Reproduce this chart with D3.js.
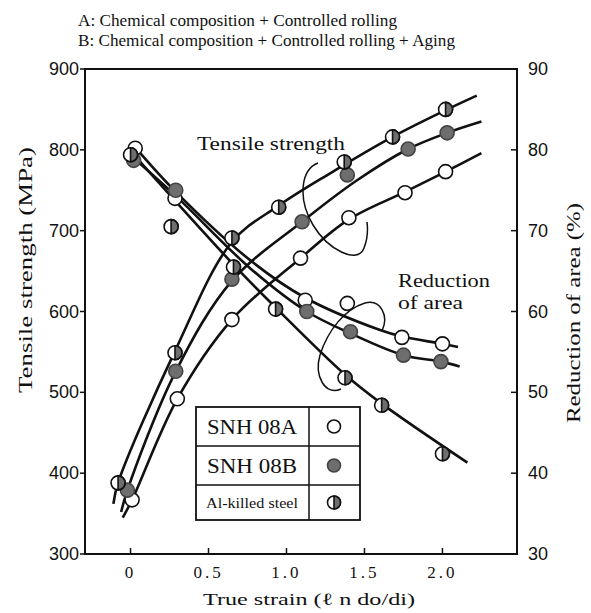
<!DOCTYPE html>
<html>
<head>
<meta charset="utf-8">
<script src="https://cdn.jsdelivr.net/npm/d3@7"></script>
<style>
  body { margin: 0; background: #fff; }
  text { font-family: "Liberation Serif", "DejaVu Serif", serif; fill: #111; }
  .num { font-family: "Liberation Sans", Arial, sans-serif; }
</style>
</head>
<body>
<div id="chart"></div>
<script>
// axis ticks
var strainTicks = [0, 0.5, 1.0, 1.5, 2.0];
var strainLabels = ["0", "0.5", "1.0", "1.5", "2.0"];
var tsTicks = [300, 400, 500, 600, 700, 800, 900];
var raTicks = [30, 40, 50, 60, 70, 80, 90];

// measured points [true strain, value]
var tsA  = [[0.01, 367], [0.30, 492], [0.65, 590], [1.09, 666], [1.40, 716], [1.76, 747], [2.02, 773]];
var tsB  = [[-0.02, 379], [0.29, 526], [0.65, 640], [1.10, 711], [1.39, 769], [1.78, 801], [2.03, 821]];
var tsAl = [[-0.08, 388], [0.285, 549], [0.65, 691], [0.95, 729], [1.37, 785], [1.68, 816], [2.02, 850]];
var raA  = [[0.03, 80.2], [0.285, 74.0], [1.12, 61.4], [1.39, 61.0], [1.74, 56.8], [2.0, 56.0]];
var raB  = [[0.02, 78.7], [0.29, 75.0], [1.13, 60.0], [1.41, 57.5], [1.75, 54.6], [1.99, 53.8]];
var raAl = [[0.0, 79.4], [0.26, 70.5], [0.66, 65.5], [0.93, 60.3], [1.375, 51.8], [1.61, 48.4], [2.0, 42.4]];

// fitted curves as drawn in the figure
var tsAFit  = [[-0.05, 345], [0.01, 367], [0.30, 492], [0.65, 590], [1.09, 666], [1.40, 714], [1.76, 748], [2.02, 773], [2.25, 796]];
var tsBFit  = [[-0.06, 352], [-0.02, 379], [0.29, 526], [0.65, 638], [1.10, 711], [1.45, 762], [1.78, 801], [2.03, 821], [2.25, 835]];
var tsAlFit = [[-0.11, 362], [-0.08, 388], [0.285, 551], [0.65, 686], [0.95, 731], [1.28, 771], [1.68, 816], [2.02, 849], [2.22, 867]];
var raAFit  = [[0.03, 80.3], [0.29, 74.8], [0.77, 66.3], [1.12, 61.7], [1.60, 57.7], [1.74, 56.9], [2.0, 56.0], [2.10, 55.6]];
var raBFit  = [[0.02, 79.0], [0.29, 74.3], [0.77, 65.3], [1.13, 60.0], [1.41, 57.3], [1.75, 54.6], [1.99, 53.8], [2.11, 53.2]];
var raAlFit = [[0.02, 79.4], [0.66, 65.8], [0.93, 60.5], [1.375, 52.2], [1.61, 48.6], [2.16, 41.3]];

var legendNames = ["SNH 08A", "SNH 08B", "Al-killed steel"];
var legendKinds = ["open", "filled", "half"];

var width = 591, height = 613;
var margin = { left: 85, top: 69, right: 74, bottom: 59 };
var innerW = width - margin.left - margin.right;
var innerH = height - margin.top - margin.bottom;
var gray = "#6e6e6e";

var svg = d3.select("#chart").append("svg")
  .attr("width", width)
  .attr("height", height);

var x = d3.scaleLinear().domain([-0.292, 2.478]).range([margin.left, margin.left + innerW]);
var yTS = d3.scaleLinear().domain([300, 900]).range([margin.top + innerH, margin.top]);
var yRA = d3.scaleLinear().domain([30, 90]).range([margin.top + innerH, margin.top]);

// frame
svg.append("rect")
  .attr("x", margin.left).attr("y", margin.top)
  .attr("width", innerW).attr("height", innerH)
  .attr("fill", "none").attr("stroke", "#111").attr("stroke-width", 2);

// left axis (ticks outward)
svg.selectAll(".tl").data(tsTicks).enter().append("line")
  .attr("x1", margin.left - 5).attr("x2", margin.left)
  .attr("y1", function (d) { return yTS(d); }).attr("y2", function (d) { return yTS(d); })
  .attr("stroke", "#111").attr("stroke-width", 1.5);
svg.selectAll(".tll").data(tsTicks).enter().append("text")
  .attr("class", "num")
  .attr("x", margin.left - 6).attr("y", function (d) { return yTS(d) + 6; })
  .attr("text-anchor", "end").attr("font-size", 18)
  .text(function (d) { return d; });

// right axis (ticks inward)
svg.selectAll(".tr").data(raTicks).enter().append("line")
  .attr("x1", margin.left + innerW - 6).attr("x2", margin.left + innerW)
  .attr("y1", function (d) { return yRA(d); }).attr("y2", function (d) { return yRA(d); })
  .attr("stroke", "#111").attr("stroke-width", 1.5);
svg.selectAll(".trl").data(raTicks).enter().append("text")
  .attr("class", "num")
  .attr("x", margin.left + innerW + 11).attr("y", function (d) { return yRA(d) + 6; })
  .attr("font-size", 18)
  .text(function (d) { return d; });

// bottom axis (ticks inward)
svg.selectAll(".tb").data(strainTicks).enter().append("line")
  .attr("x1", function (d) { return x(d); }).attr("x2", function (d) { return x(d); })
  .attr("y1", margin.top + innerH - 6).attr("y2", margin.top + innerH)
  .attr("stroke", "#111").attr("stroke-width", 1.5);
svg.selectAll(".tbl").data(strainTicks).enter().append("text")
  .attr("x", function (d) { return x(d); }).attr("y", 578)
  .attr("text-anchor", "middle").attr("font-size", 17).attr("letter-spacing", 3)
  .text(function (d, i) { return strainLabels[i]; });

// titles
svg.append("text").attr("x", 78).attr("y", 26).attr("font-size", 17)
  .attr("textLength", 319).attr("lengthAdjust", "spacingAndGlyphs")
  .text("A: Chemical composition + Controlled rolling");
svg.append("text").attr("x", 78).attr("y", 46).attr("font-size", 17)
  .attr("textLength", 377).attr("lengthAdjust", "spacingAndGlyphs")
  .text("B: Chemical composition + Controlled rolling + Aging");
svg.append("text").attr("x", 203).attr("y", 605).attr("font-size", 17)
  .attr("textLength", 212).attr("lengthAdjust", "spacingAndGlyphs")
  .text("True strain (\u2113 n do/di)");
svg.append("text")
  .attr("transform", "translate(32,393) rotate(-90)")
  .attr("font-size", 19)
  .attr("textLength", 246).attr("lengthAdjust", "spacingAndGlyphs")
  .text("Tensile strength (MPa)");
svg.append("text")
  .attr("transform", "translate(580,423) rotate(-90)")
  .attr("font-size", 19)
  .attr("textLength", 220).attr("lengthAdjust", "spacingAndGlyphs")
  .text("Reduction of area (%)");

// annotations
svg.append("text").attr("x", 197).attr("y", 150).attr("font-size", 19)
  .attr("textLength", 148).attr("lengthAdjust", "spacingAndGlyphs")
  .text("Tensile strength");
svg.append("text").attr("x", 398).attr("y", 287).attr("font-size", 19)
  .attr("textLength", 92).attr("lengthAdjust", "spacingAndGlyphs")
  .text("Reduction");
svg.append("text").attr("x", 398).attr("y", 309).attr("font-size", 19)
  .attr("textLength", 65).attr("lengthAdjust", "spacingAndGlyphs")
  .text("of area");

svg.append("path")
  .attr("d", "M318,163 C300,170 298,200 313,225 C328,250 358,265 364,248 C368,238 368,230 367,222")
  .attr("fill", "none").attr("stroke", "#111").attr("stroke-width", 1.5);
svg.append("path")
  .attr("d", "M341,389 C325,396 314,376 320,355 C328,330 345,309 365,303 C381,299 389,316 382,331")
  .attr("fill", "none").attr("stroke", "#111").attr("stroke-width", 1.5);

// curves
var smooth = d3.curveCatmullRom.alpha(0.5);
var lineTS = d3.line().x(function (d) { return x(d[0]); }).y(function (d) { return yTS(d[1]); })
  .curve(smooth);
var lineRA = d3.line().x(function (d) { return x(d[0]); }).y(function (d) { return yRA(d[1]); })
  .curve(smooth);

[tsAFit, tsBFit, tsAlFit].forEach(function (c) {
  svg.append("path").attr("d", lineTS(c))
    .attr("fill", "none").attr("stroke", "#111").attr("stroke-width", 2.6);
});
[raAFit, raBFit, raAlFit].forEach(function (c) {
  svg.append("path").attr("d", lineRA(c))
    .attr("fill", "none").attr("stroke", "#111").attr("stroke-width", 2.6);
});

// markers
function marker(kind, cx, cy, r) {
  var g = svg.append("g");
  g.append("circle").attr("cx", cx).attr("cy", cy).attr("r", r)
    .attr("fill", kind === "filled" ? gray : "#fff")
    .attr("stroke", kind === "filled" ? "#444" : "#111").attr("stroke-width", 1.6);
  if (kind === "half") {
    g.append("path")
      .attr("d", "M" + cx + "," + (cy - r) + " A" + r + "," + r + " 0 0 1 " + cx + "," + (cy + r) + " Z")
      .attr("fill", gray).attr("stroke", "#111").attr("stroke-width", 1.6);
  }
}

function drawSet(data, scale, kind) {
  data.forEach(function (d) { marker(kind, x(d[0]), scale(d[1]), 7); });
}

drawSet(tsA, yTS, "open");
drawSet(raA, yRA, "open");
drawSet(tsB, yTS, "filled");
drawSet(raB, yRA, "filled");
drawSet(tsAl, yTS, "half");
drawSet(raAl, yRA, "half");

// legend table
var lx = 196, ly = 407, lw = 164, col = 309;
var rowTops = [407, 446, 485, 520];
svg.append("rect").attr("x", lx).attr("y", ly).attr("width", lw).attr("height", 113)
  .attr("fill", "#fff").attr("stroke", "#111").attr("stroke-width", 1.8);
svg.append("line").attr("x1", col).attr("x2", col).attr("y1", ly).attr("y2", 520)
  .attr("stroke", "#111").attr("stroke-width", 1.5);
[446, 485].forEach(function (yy) {
  svg.append("line").attr("x1", lx).attr("x2", lx + lw).attr("y1", yy).attr("y2", yy)
    .attr("stroke", "#111").attr("stroke-width", 1.3);
});
legendNames.forEach(function (name, i) {
  var mid = (rowTops[i] + rowTops[i + 1]) / 2;
  var t = svg.append("text").attr("x", 252).attr("y", mid + (i === 2 ? 5 : 7))
    .attr("text-anchor", "middle").attr("font-size", i === 2 ? 15 : 20)
    .text(name);
  t.attr("textLength", i === 2 ? 92 : 90).attr("lengthAdjust", "spacingAndGlyphs");
  marker(legendKinds[i], 334, mid, 6.5);
});
</script>
</body>
</html>
